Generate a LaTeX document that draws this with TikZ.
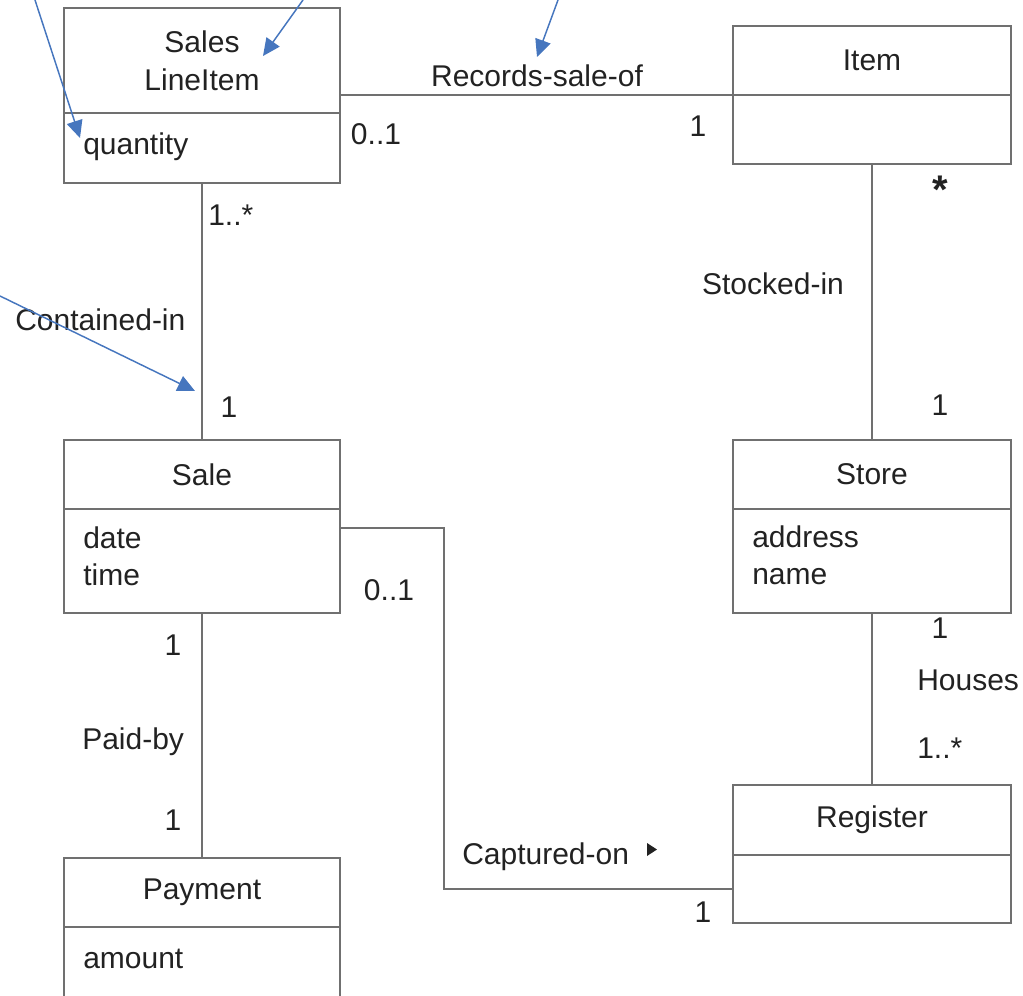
\documentclass[tikz,border=0pt]{standalone}
\usepackage{fontspec}
\setmainfont{Liberation Sans}
\usetikzlibrary{arrows.meta, positioning}
\definecolor{umlgray}{RGB}{112,112,112}
\definecolor{noteblue}{RGB}{70,118,190}
\definecolor{inkgray}{RGB}{34,34,34}

\begin{document}
\begin{tikzpicture}[
			x=0.75pt, y=-0.75pt,
			every node/.style={
				font=\fontsize{22.5}{28.5}\selectfont,
				text=inkgray
			},
			head/.style={
				rectangle,
				draw=umlgray,
				line width=1.2pt,
				outer sep=0pt,
				inner sep=0pt,
				minimum width=207pt,
				align=center
			},
			wide/.style={minimum width=208.5pt},
			attr/.style={anchor=base west, inner sep=0pt},
			mult/.style={anchor=base, inner sep=0pt},
			assoc/.style={
				draw=umlgray,
				line width=1.2pt
			},
			note/.style={
				-{Triangle[length=13pt, width=12pt]},
				draw=noteblue,
				fill=noteblue,
				line width=1.1pt
			}
			]
			
			\useasboundingbox (0,0) rectangle (1023,995);
			
			% Class: Sales LineItem
			\node[head, minimum height=78.75pt] (slih) at (202,60.5) {Sales\\LineItem};
			\node[head, minimum height=52.5pt, below=0pt of slih] (slib) {};
			\node[attr] (slia) at ([shift={(19,41)}]slib.north west) {quantity};
			
			% Class: Item
			\node[head, wide, minimum height=51.75pt] (itemh) at (872,60.5) {Item};
			\node[head, wide, minimum height=51.75pt, below=0pt of itemh] (itemb) {};
			
			% Class: Sale
			\node[head, minimum height=51.75pt] (saleh) at (202,474.5) {Sale};
			\node[head, minimum height=78pt, below=0pt of saleh] (saleb) {};
			\node[attr] (saledate) at ([shift={(19,39)}]saleb.north west) {date};
			\node[attr] (saletime) at ([shift={(19,76)}]saleb.north west) {time};
			
			% Class: Store
			\node[head, wide, minimum height=51.75pt] (storeh) at (872,474.5) {Store};
			\node[head, wide, minimum height=78pt, below=0pt of storeh] (storeb) {};
			\node[attr] (storeaddr) at ([shift={(19,38)}]storeb.north west) {address};
			\node[attr] (storename) at ([shift={(19,75)}]storeb.north west) {name};
			
			% Class: Register
			\node[head, wide, minimum height=52.5pt] (regh) at (872,820) {Register};
			\node[head, wide, minimum height=51pt, below=0pt of regh] (regb) {};
			
			% Class: Payment
			\node[head, minimum height=51.75pt] (payh) at (202,892.5) {Payment};
			\node[head, minimum height=55pt, below=0pt of payh] (payb) {};
			\node[attr] (payamt) at ([shift={(19,41)}]payb.north west) {amount};
			
			% Association: Records-sale-of
			\draw[assoc] (slih.south east |- itemh.south west) -- (itemh.south west);
			\node[mult] (rsolbl) at (537,87) {Records-sale-of};
			\node[mult] (rsosli) at (376,145) {0..1};
			\node[mult] (rsoitem) at (698,137) {1};
			
			% Association: Contained-in
			\draw[assoc] (slib.south) -- (saleh.north);
			\node[attr] (cisli) at (208,225) {1..*};
			\node[attr] (cilbl) at (15,330) {Contained-in};
			\node[mult] (cisale) at (229,417) {1};
			
			% Association: Stocked-in
			\draw[assoc] (itemb.south) -- (storeh.north);
			\node[mult, font=\fontsize{30}{30}\selectfont\bfseries] (siitem) at (940,203) {*};
			\node[mult] (silbl) at (773,294) {Stocked-in};
			\node[mult] (sistore) at (940,415) {1};
			
			% Association: Houses
			\draw[assoc] (storeb.south) -- (regh.north);
			\node[mult] (hostore) at (940,638) {1};
			\node[attr] (holbl) at (917,690) {Houses};
			\node[attr] (horeg) at (917,758) {1..*};
			
			% Association: Paid-by
			\draw[assoc] (saleb.south) -- (payh.north);
			\node[mult] (pbsale) at (173,655) {1};
			\node[attr] (pblbl) at (82,749) {Paid-by};
			\node[mult] (pbpay) at (173,830) {1};
			
			% Association: Captured-on
			\coordinate (cofrom) at ([shift={(0,19)}]saleb.north east);
			\draw[assoc] (cofrom) -- ++(104,0) |- (regb.west);
			\node[mult] (cosale) at (389,600) {0..1};
			\node[attr] (colbl) at (462,864) {Captured-on};
			\fill[inkgray] (647,843) -- (657,849.5) -- (647,856) -- cycle;
			\node[mult] (coreg) at (703,922) {1};
			
			% Blue annotation arrows
			\coordinate (qtyfrom) at (35,0);
			\coordinate (qtyto) at (80,138);
			\coordinate (namefrom) at (303,0);
			\coordinate (nameto) at (263,56);
			\coordinate (rsofrom) at (558,0);
			\coordinate (rsoto) at (537,57);
			\coordinate (cifrom) at (0,296);
			\coordinate (cito) at (195,391);
			
			\draw[note] (qtyfrom) -- (qtyto);
			\draw[note] (namefrom) -- (nameto);
			\draw[note] (rsofrom) -- (rsoto);
			\draw[note] (cifrom) -- (cito);
			
		\end{tikzpicture}
\end{document}
